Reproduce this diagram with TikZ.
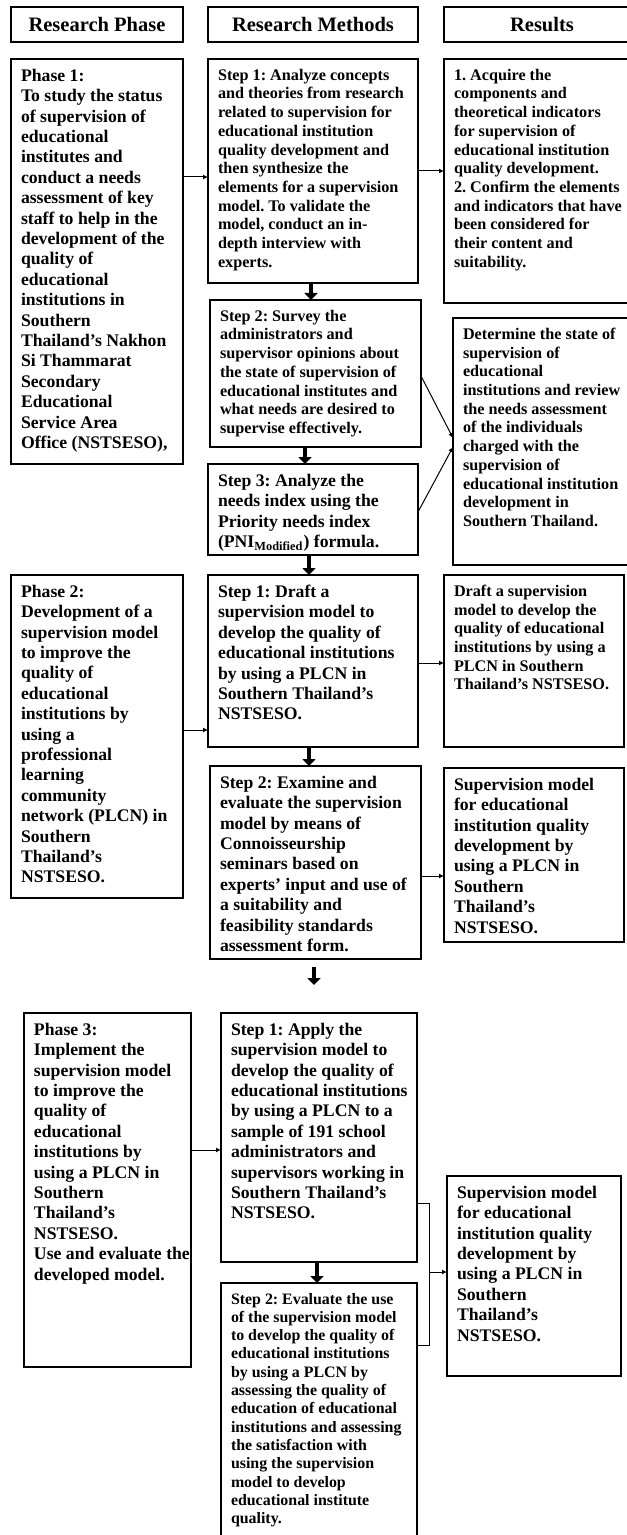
\documentclass[tikz,border=0pt]{standalone}
\usepackage{fontspec}
\setmainfont{Liberation Serif}
\usetikzlibrary{arrows.meta}
\frenchspacing

\newcommand{\bigtxt}{\fontsize{8.85pt}{10.2pt}\selectfont\bfseries}
\newcommand{\smalltxt}{\fontsize{8.1pt}{9.35pt}\selectfont\bfseries}
\newcommand{\tinytxt}{\fontsize{7.95pt}{9.15pt}\selectfont\bfseries}
\newcommand{\boxtext}[3]{\parbox[c][#2][t]{#1}{\leftskip=5pt\rightskip=0pt plus 1fil\relax #3}}

\tikzset{
  stage/.style={draw, line width=0.7pt, anchor=north west, inner xsep=0pt, inner ysep=5pt, outer sep=0pt},
  head/.style={draw, line width=0.7pt, anchor=north west, inner sep=0pt, outer sep=0pt,
    minimum height=17.5pt, font=\fontsize{10.25pt}{12pt}\selectfont\bfseries},
  flow/.style={-{Latex[length=2.5pt,width=2.5pt]}, line width=0.5pt},
  bigarrow/.style={-{Triangle[length=3.5pt,width=6.5pt]}, line width=2pt},
}

\begin{document}
\begin{tikzpicture}[x=0.5pt,y=-0.5pt]
    \useasboundingbox (0,0) rectangle (626,1535);

    % column heads
    \node[head, minimum width=86pt] (hphase) at (11,7) {Research Phase};
    \node[head, minimum width=105pt] (hmethod) at (208,7) {Research Methods};
    \node[head, minimum width=98pt] (hresult) at (444,7) {Results};

    % phase 1
    \node[stage] (p1) at (11,59) {\boxtext{86pt}{192.5pt}{\bigtxt Phase 1:\\To study the status\\of supervision of\\educational\\institutes and\\conduct a needs\\assessment of key\\staff to help in the\\development of the\\quality of\\educational\\institutions in\\Southern\\Thailand's Nakhon\\Si Thammarat\\Secondary\\Educational\\Service Area\\Office (NSTSESO),}};
    \node[stage] (s1a) at (208,59) {\boxtext{105pt}{102pt}{\smalltxt Step 1: Analyze concepts\\and theories from research\\related to supervision for\\educational institution\\quality development and\\then synthesize the\\elements for a supervision\\model. To validate the\\model, conduct an in-\\depth interview with\\experts.}};
    \node[stage] (r1) at (444,59) {\boxtext{98pt}{112pt}{\smalltxt 1. Acquire the\\components and\\theoretical indicators\\for supervision of\\educational institution\\quality development.\\2. Confirm the elements\\and indicators that have\\been considered for\\their content and\\suitability.}};
    \node[stage] (s2a) at (210,300) {\boxtext{105.5pt}{63.5pt}{\smalltxt Step 2: Survey the\\administrators and\\supervisor opinions about\\the state of supervision of\\educational institutes and\\what needs are desired to\\supervise effectively.}};
    \node[stage] (s3a) at (208,464) {\boxtext{105pt}{35.5pt}{\bigtxt Step 3: Analyze the\\needs index using the\\Priority needs index\\(PNI\textsubscript{Modified}) formula.}};
    \node[stage] (r2) at (453,318) {\boxtext{93.5pt}{113.5pt}{\smalltxt Determine the state of\\supervision of\\educational\\institutions and review\\the needs assessment\\of the individuals\\charged with the\\supervision of\\educational institution\\development in\\Southern Thailand.}};

    \draw[flow] (p1.east |- 0,177) -- (s1a.west |- 0,177);
    \draw[flow] (s1a.east |- 0,171) -- (r1.west |- 0,171);
    \draw[flow] (s2a.east |- 0,376) -- (r2.west |- 0,438);
    \draw[flow] (s3a.east |- 0,512) -- (r2.west |- 0,447);
    \draw[bigarrow] (s1a.south -| 311,0) -- (s2a.north -| 311,0);
    \draw[bigarrow] (s2a.south -| 305,0) -- (s3a.north -| 305,0);

    % phase 2
    \node[stage] (p2) at (11,575) {\boxtext{86pt}{151.5pt}{\bigtxt Phase 2:\\Development of a\\supervision model\\to improve the\\quality of\\educational\\institutions by\\using a\\professional\\learning\\community\\network (PLCN) in\\Southern\\Thailand's\\NSTSESO.}};
    \node[stage] (s1b) at (208,575) {\boxtext{105pt}{76pt}{\bigtxt Step 1: Draft a\\supervision model to\\develop the quality of\\educational institutions\\by using a PLCN in\\Southern Thailand's\\NSTSESO.}};
    \node[stage] (r3) at (444,575) {\boxtext{90pt}{76pt}{\smalltxt Draft a supervision\\model to develop the\\quality of educational\\institutions by using a\\PLCN in Southern\\Thailand's NSTSESO.}};
    \node[stage] (s2b) at (210,766) {\boxtext{105.5pt}{86.5pt}{\bigtxt Step 2: Examine and\\evaluate the supervision\\model by means of\\Connoisseurship\\seminars based on\\experts' input and use of\\a suitability and\\feasibility standards\\assessment form.}};
    \node[stage] (r4) at (444,768) {\boxtext{90pt}{77pt}{\bigtxt Supervision model\\for educational\\institution quality\\development by\\using a PLCN in\\Southern\\Thailand's\\NSTSESO.}};

    \draw[bigarrow] (s3a.south -| 309,0) -- (s1b.north -| 309,0);
    \draw[flow] (p2.east |- 0,730) -- (s1b.west |- 0,730);
    \draw[flow] (s1b.east |- 0,663) -- (r3.west |- 0,663);
    \draw[bigarrow] (s1b.south -| 309,0) -- (s2b.north -| 309,0);
    \draw[flow] (s2b.east |- 0,876) -- (r4.west |- 0,876);
    \draw[bigarrow] (314,967) -- (314,985);

    % phase 3
    \node[stage] (p3) at (24,1013) {\boxtext{83.5pt}{167pt}{\bigtxt Phase 3:\\Implement the\\supervision model\\to improve the\\quality of\\educational\\institutions by\\using a PLCN in\\Southern\\Thailand's\\NSTSESO.\\Use and evaluate the\\developed model.}};
    \node[stage] (s1c) at (221,1013) {\boxtext{98pt}{114.5pt}{\bigtxt Step 1: Apply the\\supervision model to\\develop the quality of\\educational institutions\\by using a PLCN to a\\sample of 191 school\\administrators and\\supervisors working in\\Southern Thailand's\\NSTSESO.}};
    \node[stage] (s2c) at (221,1283) {\boxtext{98pt}{121pt}{\tinytxt Step 2: Evaluate the use\\of the supervision model\\to develop the quality of\\educational institutions\\by using a PLCN by\\assessing the quality of\\education of educational\\institutions and assessing\\the satisfaction with\\using the supervision\\model to develop\\educational institute\\quality.}};
    \node[stage] (r5) at (447,1176) {\boxtext{87pt}{90pt}{\bigtxt Supervision model\\for educational\\institution quality\\development by\\using a PLCN in\\Southern\\Thailand's\\NSTSESO.}};

    \draw[flow] (p3.east |- 0,1150) -- (s1c.west |- 0,1150);
    \draw[bigarrow] (s1c.south -| 317,0) -- (s2c.north -| 317,0);
    \draw[line width=0.5pt] (s1c.east |- 0,1203) -- (429,1203) -- (429,1345) -- (s2c.east |- 0,1345);
    \coordinate (join) at (429,1272);
    \draw[flow] (join) -- (r5.west |- join);
  \end{tikzpicture}
\end{document}
